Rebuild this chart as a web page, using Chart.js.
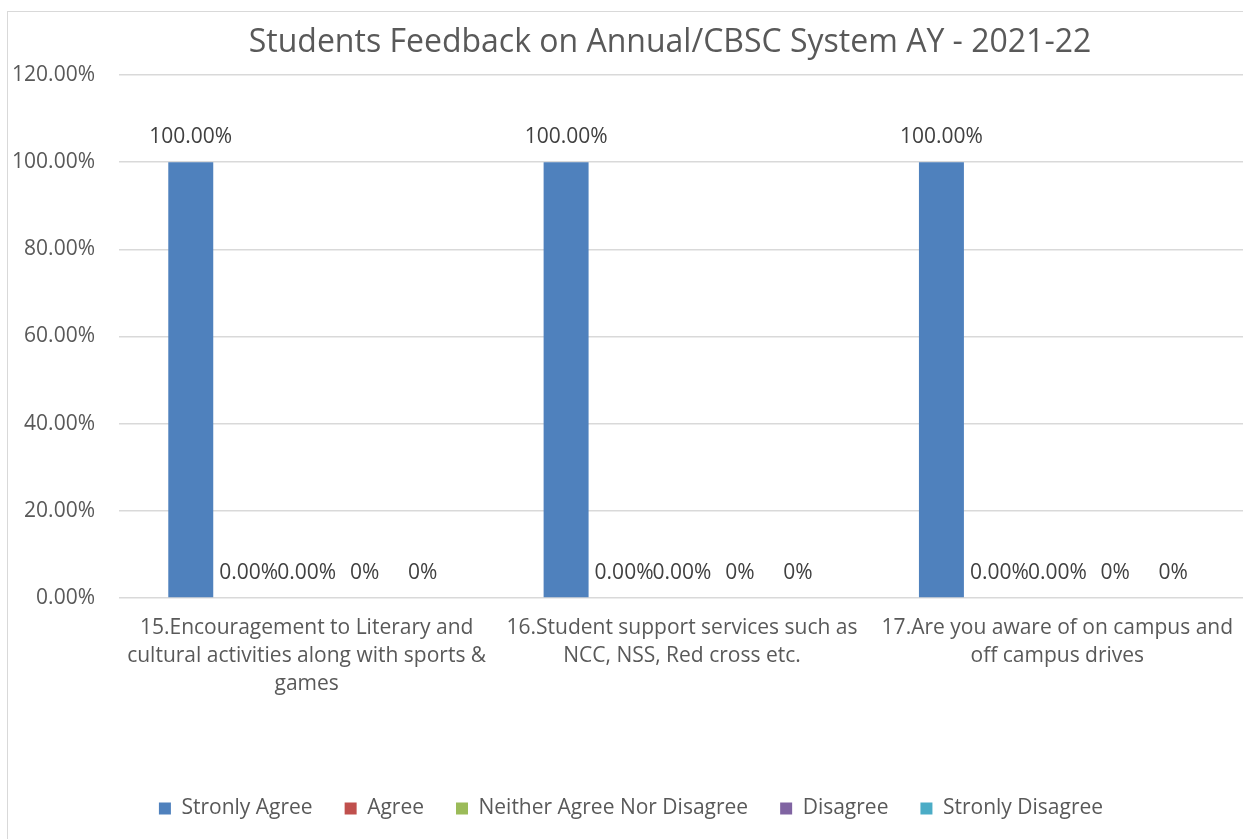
<!DOCTYPE html>
<html>
<head>
<meta charset="utf-8">
<script src="https://cdn.jsdelivr.net/npm/chart.js@4/dist/chart.umd.min.js"></script>
<style>
  html, body { margin: 0; padding: 0; background: #ffffff; overflow: hidden; width: 1243px; height: 839px; }
  #frame { position: absolute; left: 7px; top: 11px; width: 1324px; height: 840px; border: 1px solid #d9d9d9; background: #fff; }
  canvas { display: block; }
</style>
</head>
<body>
<div id="frame"><canvas id="c" width="1324" height="817"></canvas></div>
<script>
const chartTitle = 'Students Feedback on Annual/CBSC System AY - 2021-22';
const categories = [
  ['15.Encouragement to Literary and', 'cultural activities along with sports &', 'games'],
  ['16.Student support services such as', 'NCC, NSS, Red cross etc.'],
  ['17.Are you aware of on campus and', 'off campus drives']
];
const seriesNames = ['Stronly Agree', 'Agree', 'Neither Agree Nor Disagree', 'Disagree', 'Stronly Disagree'];
const stronglyAgree = [100, 100, 100];
const agree = [0, 0, 0];
const neither = [0, 0, 0];
const disagree = [0, 0, 0];
const stronglyDisagree = [0, 0, 0];
const labelDecimals = [2, 2, 2, 0, 0];
const seriesColors = ['#4f81bd', '#c0504d', '#9bbb59', '#8064a2', '#4bacc6'];
const yMin = 0, yMax = 120, yStep = 20;

const seriesValues = [stronglyAgree, agree, neither, disagree, stronglyDisagree];
const FONT = '"Open Sans", "DejaVu Sans", sans-serif';

const valueLabels = {
  id: 'valueLabels',
  afterDatasetsDraw(chart) {
    const ctx = chart.ctx;
    ctx.save();
    ctx.font = '21px ' + FONT;
    ctx.fillStyle = '#404040';
    ctx.textAlign = 'center';
    ctx.textBaseline = 'middle';
    chart.data.datasets.forEach((ds, di) => {
      const meta = chart.getDatasetMeta(di);
      meta.data.forEach((bar, i) => {
        const v = ds.data[i];
        ctx.fillText(v.toFixed(labelDecimals[di]) + '%', bar.x, bar.y - 25);
      });
    });
    ctx.restore();
  }
};

const shiftLegend = {
  id: 'shiftLegend',
  afterLayout(chart) {
    const l = chart.legend;
    if (l) { l.left -= 39; l.right -= 39; }
  }
};

new Chart(document.getElementById('c'), {
  type: 'bar',
  data: {
    labels: categories,
    datasets: seriesNames.map((name, i) => ({
      label: name,
      data: seriesValues[i],
      backgroundColor: seriesColors[i],
      borderWidth: 0,
      categoryPercentage: 0.772,
      barPercentage: 0.776
    }))
  },
  options: {
    responsive: false,
    animation: false,
    layout: { padding: { left: 0, right: 0, top: 0, bottom: 0 } },
    plugins: {
      title: {
        display: true,
        text: chartTitle,
        color: '#595959',
        font: { family: FONT, size: 32, weight: 'normal', lineHeight: 1.2 },
        padding: { top: 12, bottom: 12.6 }
      },
      legend: {
        position: 'bottom',
        labels: {
          color: '#595959',
          font: { family: FONT, size: 21 },
          boxWidth: 12,
          boxHeight: 12,
          padding: 32
        }
      },
      tooltip: { enabled: false }
    },
    scales: {
      x: {
        grid: { display: false },
        border: { display: false },
        ticks: {
          color: '#595959',
          font: { family: FONT, size: 21, lineHeight: 1.33 },
          padding: 8,
          maxRotation: 0,
          autoSkip: false
        },
        afterFit: (s) => { s.height = 168; }
      },
      y: {
        min: yMin,
        max: yMax,
        border: { display: false },
        grid: { color: '#d9d9d9', lineWidth: 1.5, drawTicks: false },
        ticks: {
          stepSize: yStep,
          color: '#595959',
          font: { family: FONT, size: 21 },
          padding: 24,
          callback: (v) => v.toFixed(2) + '%'
        },
        afterFit: (s) => { s.width = 111; }
      },
      yRight: {
        position: 'right',
        display: true,
        grid: { display: false },
        border: { display: false },
        ticks: { display: false },
        afterFit: (s) => { s.width = 87; }
      }
    }
  },
  plugins: [valueLabels, shiftLegend]
});
</script>
</body>
</html>
